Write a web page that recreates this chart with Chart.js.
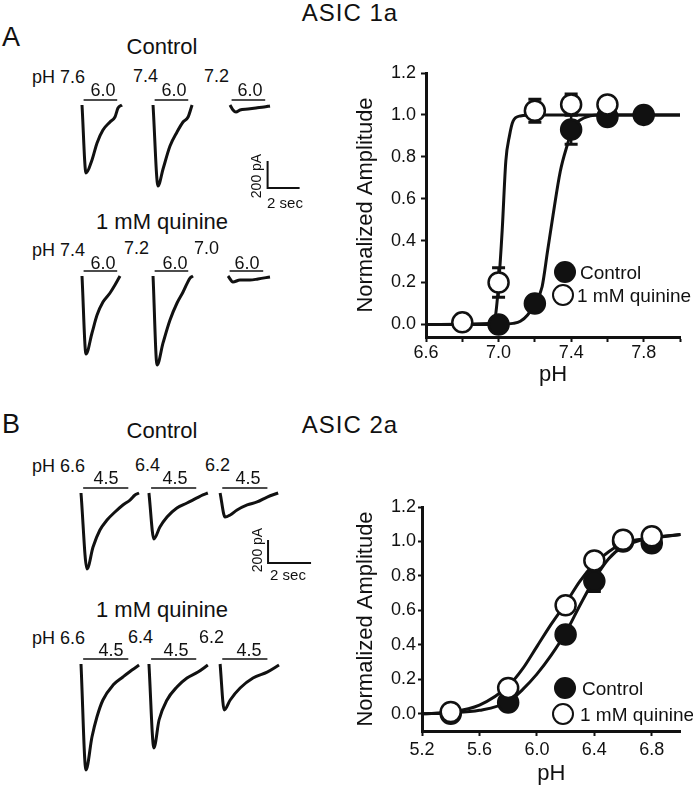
<!DOCTYPE html>
<html><head><meta charset="utf-8">
<script src="https://cdn.jsdelivr.net/npm/chart.js@4/dist/chart.umd.min.js"></script>
<style>
html,body{margin:0;padding:0;background:#fff;}
#fig{position:relative;width:693px;height:787px;overflow:hidden;font-family:"Liberation Sans",Arial,sans-serif;color:#111;}
canvas{position:absolute;}
.t{position:absolute;white-space:nowrap;line-height:1;}
.dot{position:absolute;box-sizing:border-box;border-radius:50%;}
</style></head><body><div id="fig"></div>
<script>
// ===================== DATA =====================
// --- ASIC 1a current traces (time s from sweep onset, current pA) ---
const a1CtrlOnsets = [0, 4.44, 9.25];
const a1CtrlTime = [
  [0, 0.25, 0.625, 0.94, 1.31, 1.75, 2.06, 2.25, 2.5],
  [0, 0.31, 0.625, 1.06, 1.5, 1.875, 2.19, 2.44],
  [0, 0.19, 0.375, 0.625, 1.125, 1.625, 2.125, 2.5]
];
const a1CtrlCurrent = [
  [0, -504, -407, -281, -185, -126, -89, -22, 0],
  [0, -600, -474, -304, -200, -126, -89, 0],
  [0, -37, -52, -37, -30, -22, -15, -7]
];
const a1QuinOnsets = [0, 4.44, 9.125];
const a1QuinTime = [
  [0, 0.25, 0.625, 0.94, 1.31, 1.75, 2.06, 2.375],
  [0, 0.25, 0.625, 1.06, 1.5, 1.875, 2.31, 2.5],
  [0, 0.31, 0.75, 1.375, 1.875, 2.625]
];
const a1QuinCurrent = [
  [0, -578, -422, -289, -193, -126, -67, 0],
  [0, -659, -496, -326, -200, -119, -15, 0],
  [0, -44, -30, -30, -22, -7]
];
// --- ASIC 2a current traces ---
const a2CtrlOnsets = [0, 3.16, 6.47];
const a2CtrlTime = [
  [0, 0.28, 0.56, 0.88, 1.21, 1.58, 1.95, 2.28, 2.51, 2.70],
  [0, 0.23, 0.51, 0.84, 1.30, 1.77, 2.23, 2.51, 2.74],
  [0, 0.23, 0.47, 0.79, 1.26, 1.72, 2.19, 2.70]
];
const a2CtrlCurrent = [
  [0, -661, -470, -322, -235, -165, -104, -61, -17, 0],
  [0, -400, -296, -209, -130, -87, -43, -17, 0],
  [0, -209, -191, -148, -104, -78, -35, 0]
];
const a2QuinOnsets = [0, 3.16, 6.47];
const a2QuinTime = [
  [0, 0.23, 0.51, 0.74, 1.02, 1.49, 1.95, 2.37, 2.70],
  [0, 0.23, 0.47, 0.84, 1.30, 1.77, 2.28, 2.74],
  [0, 0.19, 0.47, 0.93, 1.53, 2.19, 2.74]
];
const a2QuinCurrent = [
  [0, -922, -635, -461, -313, -183, -113, -52, -9],
  [0, -730, -487, -313, -200, -122, -70, -9],
  [0, -400, -313, -209, -122, -70, -9]
];
// acid application window (s) and scale bars
const appWindowSec = [0.1, 2.2];
const scaleBarPA = 200;
const scaleBarSec = 2;

// --- ASIC 1a pH dependence ---
const a1CtrlPH  = [7.0, 7.2, 7.4, 7.6, 7.8];
const a1CtrlAmp = [0.00, 0.10, 0.93, 0.99, 1.00];
const a1CtrlErr = [0.01, 0.02, 0.07, 0.01, 0.01];
const a1QuinPH  = [6.8, 7.0, 7.2, 7.4, 7.6];
const a1QuinAmp = [0.01, 0.20, 1.02, 1.05, 1.05];
const a1QuinErr = [0.01, 0.07, 0.055, 0.05, 0.02];
const a1CtrlFitPH  = [6.6, 7.0, 7.08, 7.12, 7.16, 7.2, 7.24, 7.27, 7.30, 7.34, 7.38, 7.41, 7.47, 7.55, 8.0];
const a1CtrlFitAmp = [0, 0, 0.005, 0.015, 0.045, 0.1, 0.18, 0.35, 0.52, 0.73, 0.86, 0.94, 0.985, 1.0, 1.0];
const a1QuinFitPH  = [6.6, 6.95, 6.98, 7.0, 7.02, 7.04, 7.06, 7.08, 7.12, 7.2, 8.0];
const a1QuinFitAmp = [0, 0.005, 0.03, 0.19, 0.45, 0.78, 0.9, 0.97, 0.995, 1.0, 1.0];

// --- ASIC 2a pH dependence ---
const a2CtrlPH  = [5.4, 5.8, 6.2, 6.4, 6.6, 6.8];
const a2CtrlAmp = [0.00, 0.065, 0.46, 0.77, 1.00, 0.99];
const a2CtrlErr = [0.01, 0.02, 0.04, 0.06, 0.02, 0.02];
const a2QuinPH  = [5.4, 5.8, 6.2, 6.4, 6.6, 6.8];
const a2QuinAmp = [0.01, 0.15, 0.63, 0.89, 1.01, 1.03];
const a2QuinErr = [0.01, 0.02, 0.03, 0.04, 0.02, 0.02];
const a2CtrlFitPH  = [5.2, 5.4, 5.6, 5.8, 5.9, 6.0, 6.1, 6.2, 6.3, 6.4, 6.5, 6.6, 6.8, 7.0];
const a2CtrlFitAmp = [0, 0.005, 0.02, 0.07, 0.14, 0.23, 0.34, 0.47, 0.63, 0.78, 0.9, 0.97, 1.02, 1.04];
const a2QuinFitPH  = [5.2, 5.4, 5.6, 5.8, 5.9, 6.0, 6.1, 6.2, 6.3, 6.4, 6.5, 6.6, 6.8, 7.0];
const a2QuinFitAmp = [0, 0.01, 0.05, 0.16, 0.26, 0.39, 0.52, 0.64, 0.77, 0.87, 0.94, 0.99, 1.02, 1.04];

// --- tick labels ---
const yTickValues = [0, 0.2, 0.4, 0.6, 0.8, 1.0, 1.2];
const yTickLabels = ['0.0', '0.2', '0.4', '0.6', '0.8', '1.0', '1.2'];
const xTickValuesA = [6.6, 6.8, 7.0, 7.2, 7.4, 7.6, 7.8, 8.0];
const xTickLabelsA = ['6.6', '', '7.0', '', '7.4', '', '7.8', ''];
const xTickValuesB = [5.2, 5.6, 6.0, 6.4, 6.8];
const xTickLabelsB = ['5.2', '5.6', '6.0', '6.4', '6.8'];

// ===================== RENDERING =====================
const FONT = '"Liberation Sans", Arial, sans-serif';
const INK = '#111';
Chart.defaults.font.family = FONT;
Chart.defaults.color = INK;
const fig = document.getElementById('fig');

function makeCanvas(l, t, w, h) {
  const c = document.createElement('canvas');
  c.width = w; c.height = h;
  c.style.left = l + 'px'; c.style.top = t + 'px';
  c.style.width = w + 'px'; c.style.height = h + 'px';
  fig.appendChild(c);
  return c;
}
function text(str, x, y, size, align, extra) {
  const d = document.createElement('div');
  d.className = 't';
  d.textContent = str;
  d.style.left = x + 'px'; d.style.top = y + 'px';
  d.style.fontSize = size + 'px';
  let tr = align === 'c' ? 'translate(-50%,-50%)' : 'translate(0,-50%)';
  if (extra && extra.rotate) tr += ' rotate(-90deg)';
  d.style.transform = tr;
  if (extra && extra.ls) d.style.letterSpacing = extra.ls + 'px';
  fig.appendChild(d);
}
function pts(xs, ys) { return xs.map((x, i) => ({x: x, y: ys[i]})); }

// ---- trace panels ----
function traceChart(cfg) {
  const cv = makeCanvas(0, cfg.top, 340, cfg.height);
  const xmin = -cfg.firstPx / cfg.pxPerSec;
  const xmax = xmin + 340 / cfg.pxPerSec;
  const ymax = (cfg.basePx - cfg.top) / cfg.pxPerPA;
  const ymin = ymax - cfg.height / cfg.pxPerPA;
  const ds = [];
  cfg.onsets.forEach((on, k) => {
    ds.push({data: cfg.time[k].map((t, i) => ({x: on + t, y: cfg.current[k][i]})),
      showLine: true, borderColor: INK, borderWidth: 3, pointRadius: 0,
      cubicInterpolationMode: 'monotone', clip: false});
    ds.push({data: [{x: on + appWindowSec[0], y: cfg.barPA}, {x: on + appWindowSec[1], y: cfg.barPA}],
      showLine: true, borderColor: INK, borderWidth: 1.5, pointRadius: 0, clip: false});
  });
  if (cfg.scaleBar) {
    const s = cfg.scaleBar;
    ds.push({data: [{x: s.t, y: s.i + scaleBarPA}, {x: s.t, y: s.i}, {x: s.t + scaleBarSec, y: s.i}],
      showLine: true, borderColor: INK, borderWidth: 2, pointRadius: 0, tension: 0, clip: false});
  }
  new Chart(cv, {
    type: 'scatter',
    data: {datasets: ds},
    options: {
      responsive: false, animation: false, devicePixelRatio: 1,
      layout: {padding: 0},
      plugins: {legend: {display: false}, tooltip: {enabled: false}},
      scales: {
        x: {type: 'linear', display: false, min: xmin, max: xmax},
        y: {type: 'linear', display: false, min: ymin, max: ymax}
      }
    }
  });
}

traceChart({top: 92, height: 115, basePx: 105, firstPx: 82, pxPerSec: 16, pxPerPA: 0.135, barPA: 37,
  onsets: a1CtrlOnsets, time: a1CtrlTime, current: a1CtrlCurrent, scaleBar: {t: 11.6, i: -615}});
traceChart({top: 262, height: 115, basePx: 276, firstPx: 82, pxPerSec: 16, pxPerPA: 0.135, barPA: 37,
  onsets: a1QuinOnsets, time: a1QuinTime, current: a1QuinCurrent});
traceChart({top: 480, height: 105, basePx: 493, firstPx: 81, pxPerSec: 21.5, pxPerPA: 0.115, barPA: 43,
  onsets: a2CtrlOnsets, time: a2CtrlTime, current: a2CtrlCurrent, scaleBar: {t: 8.7, i: -609}});
traceChart({top: 651, height: 128, basePx: 664, firstPx: 81, pxPerSec: 21.5, pxPerPA: 0.115, barPA: 43,
  onsets: a2QuinOnsets, time: a2QuinTime, current: a2QuinCurrent});

// ---- error bars plugin ----
const errorBars = {
  id: 'errorBars',
  beforeDatasetsDraw(chart) {
    const ctx = chart.ctx, xs = chart.scales.x, ys = chart.scales.y;
    chart.data.datasets.forEach(ds => {
      if (!ds.errors) return;
      ds.data.forEach((p, i) => {
        const e = ds.errors[i];
        const px = xs.getPixelForValue(p.x);
        const y1 = ys.getPixelForValue(p.y + e), y2 = ys.getPixelForValue(p.y - e);
        ctx.save();
        ctx.strokeStyle = INK;
        ctx.lineWidth = 2.5;
        ctx.beginPath(); ctx.moveTo(px, y1); ctx.lineTo(px, y2); ctx.stroke();
        ctx.lineWidth = 3;
        ctx.beginPath();
        ctx.moveTo(px - 6.5, y1); ctx.lineTo(px + 6.5, y1);
        ctx.moveTo(px - 6.5, y2); ctx.lineTo(px + 6.5, y2);
        ctx.stroke();
        ctx.restore();
      });
    });
  }
};

function doseChart(cfg) {
  const cv = makeCanvas(340, cfg.top, 353, cfg.height);
  const pointStyle = {showLine: false, pointRadius: 10, pointHoverRadius: 10, pointBorderWidth: 2.5,
    pointBorderColor: INK, clip: false};
  const curveStyle = {showLine: true, pointRadius: 0, borderColor: INK, borderWidth: 3,
    cubicInterpolationMode: 'monotone', clip: false, order: 2};
  new Chart(cv, {
    type: 'scatter',
    data: {datasets: [
      Object.assign({label: '1 mM quinine', data: pts(cfg.qx, cfg.qy), errors: cfg.qe,
        pointBackgroundColor: '#fff', order: 0}, pointStyle),
      Object.assign({label: 'Control', data: pts(cfg.cx, cfg.cy), errors: cfg.ce,
        pointBackgroundColor: INK, order: 1}, pointStyle),
      Object.assign({label: 'fit quinine', data: pts(cfg.qfx, cfg.qfy)}, curveStyle),
      Object.assign({label: 'fit control', data: pts(cfg.cfx, cfg.cfy)}, curveStyle)
    ]},
    plugins: [errorBars],
    options: {
      responsive: false, animation: false, devicePixelRatio: 1,
      layout: {padding: {top: cfg.padTop, right: cfg.padRight, left: 0, bottom: 0}},
      plugins: {legend: {display: false}, tooltip: {enabled: false}},
      scales: {
        x: {
          type: 'linear', min: cfg.xmin, max: cfg.xmax,
          afterFit: s => { s.height = cfg.xAxisH; },
          afterBuildTicks: s => { s.ticks = cfg.xTicks.map(v => ({value: v})); },
          ticks: {callback: (v, i) => cfg.xLabels[i], font: {size: 18}, color: INK,
            padding: cfg.xTickPad, maxRotation: 0, autoSkip: false},
          grid: {display: true, drawOnChartArea: false, drawTicks: true, tickLength: 5, tickWidth: 2, tickColor: INK},
          border: {display: true, color: INK, width: 3},
          title: {display: true, text: 'pH', font: {size: 22}, color: INK, padding: {top: 0, bottom: cfg.xTitlePad}}
        },
        y: {
          type: 'linear', min: cfg.ymin, max: 1.2,
          afterFit: s => { s.width = cfg.yAxisW; },
          afterBuildTicks: s => { s.ticks = yTickValues.map(v => ({value: v})); },
          ticks: {callback: (v, i) => yTickLabels[i], font: {size: 18}, color: INK,
            padding: cfg.yTickPad, autoSkip: false},
          grid: {display: true, drawOnChartArea: false, drawTicks: true, tickLength: cfg.yTickLen, tickWidth: 2, tickColor: INK},
          border: {display: true, color: INK, width: 3},
          title: {display: true, text: 'Normalized Amplitude', font: {size: 22}, color: INK, padding: {top: 13, bottom: 0}}
        }
      }
    }
  });
}

doseChart({top: 55, height: 340, padTop: 18, padRight: 13, xAxisH: 58, yAxisW: 86,
  xmin: 6.6, xmax: 8.0, ymin: -0.06, xTicks: xTickValuesA, xLabels: xTickLabelsA,
  xTickPad: 0, xTitlePad: 7, yTickPad: 5, yTickLen: 5,
  qx: a1QuinPH, qy: a1QuinAmp, qe: a1QuinErr, cx: a1CtrlPH, cy: a1CtrlAmp, ce: a1CtrlErr,
  qfx: a1QuinFitPH, qfy: a1QuinFitAmp, cfx: a1CtrlFitPH, cfy: a1CtrlFitAmp});
doseChart({top: 490, height: 297, padTop: 17, padRight: 1, xAxisH: 56, yAxisW: 82,
  xmin: 5.2, xmax: 7.0, ymin: -0.1, xTicks: xTickValuesB, xLabels: xTickLabelsB,
  xTickPad: 3, xTitlePad: 0, yTickPad: 2, yTickLen: 4,
  qx: a2QuinPH, qy: a2QuinAmp, qe: a2QuinErr, cx: a2CtrlPH, cy: a2CtrlAmp, ce: a2CtrlErr,
  qfx: a2QuinFitPH, qfy: a2QuinFitAmp, cfx: a2CtrlFitPH, cfy: a2CtrlFitAmp});

// ---- text ----
text('A', 2, 37, 27, 'l');
text('B', 2, 424, 27, 'l');
text('ASIC 1a', 350, 13, 24, 'c', {ls: 1});
text('ASIC 2a', 350, 425, 24, 'c', {ls: 1});

text('Control', 162, 47, 22, 'c');
text('pH 7.6', 32, 76.5, 18, 'l');
text('7.4', 133, 75.5, 18, 'l');
text('7.2', 204, 75.5, 18, 'l');
[103, 174, 250].forEach(x => text('6.0', x, 90, 18, 'c'));
text('200 pA', 256, 176, 14, 'c', {rotate: true});
text('2 sec', 285, 202, 15, 'c');

text('1 mM quinine', 162, 221.5, 22, 'c');
text('pH 7.4', 32, 249.5, 18, 'l');
text('7.2', 124, 248, 18, 'l');
text('7.0', 194, 248, 18, 'l');
[103, 175, 247].forEach(x => text('6.0', x, 263, 18, 'c'));

text('Control', 162, 431, 22, 'c');
text('pH 6.6', 32, 466, 18, 'l');
text('6.4', 135, 465, 18, 'l');
text('6.2', 205, 465, 18, 'l');
[106, 175, 248].forEach(x => text('4.5', x, 477.5, 18, 'c'));
text('200 pA', 257, 550, 14, 'c', {rotate: true});
text('2 sec', 288, 574, 15, 'c');

text('1 mM quinine', 162, 609.5, 22, 'c');
text('pH 6.6', 32, 637.5, 18, 'l');
text('6.4', 128, 637, 18, 'l');
text('6.2', 199, 637, 18, 'l');
[111, 176, 249].forEach(x => text('4.5', x, 650, 18, 'c'));

// ---- legends ----
function legend(cx, cyCtrl, cyQuin, txCtrl, txQuin) {
  const f = document.createElement('div');
  f.className = 'dot';
  Object.assign(f.style, {left: (cx - 11) + 'px', top: (cyCtrl - 11) + 'px', width: '22px', height: '22px', background: INK});
  fig.appendChild(f);
  const o = document.createElement('div');
  o.className = 'dot';
  Object.assign(o.style, {left: (cx - 13) + 'px', top: (cyQuin - 11) + 'px', width: '22px', height: '22px',
    background: '#fff', border: '2.5px solid ' + INK});
  fig.appendChild(o);
  text('Control', txCtrl, cyCtrl, 19, 'l');
  text('1 mM quinine', txQuin, cyQuin, 19, 'l');
}
legend(565, 272, 295, 580, 577);
legend(565, 688, 714, 582, 580);
</script></body></html>
